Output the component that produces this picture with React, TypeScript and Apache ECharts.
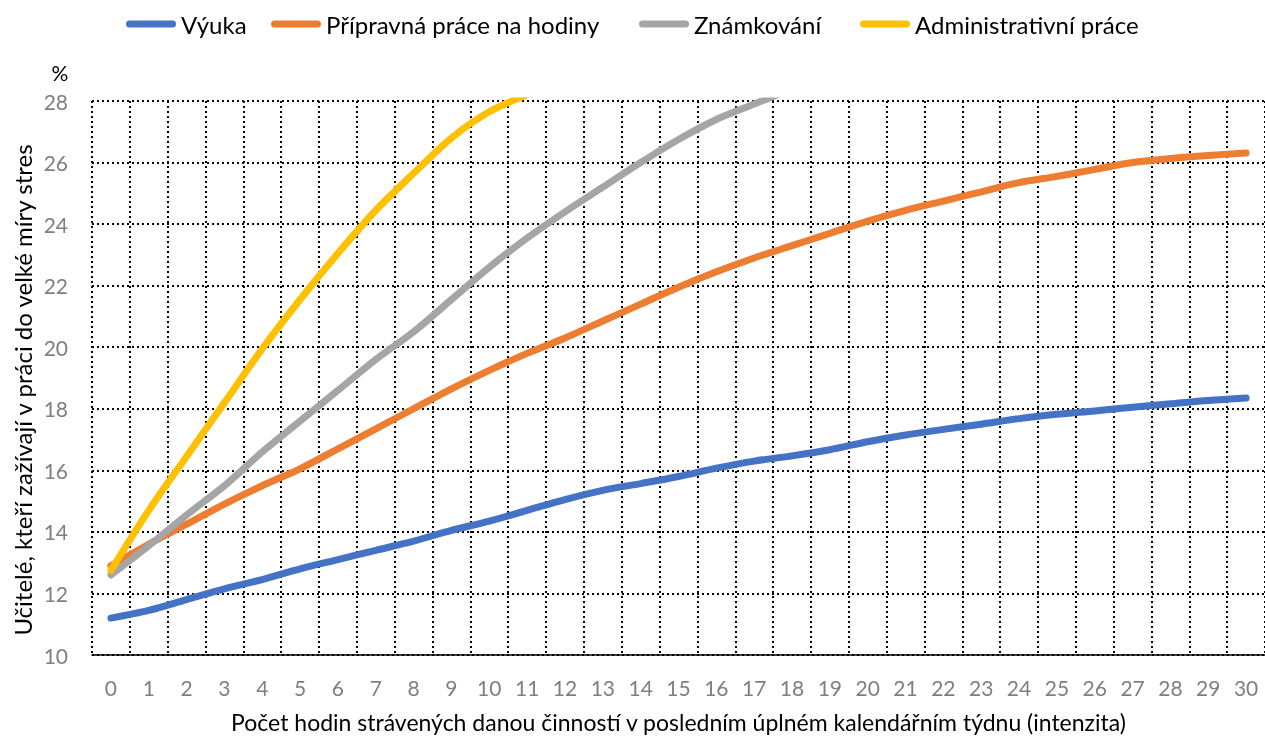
import React, { useEffect, useRef } from "react";
import * as echarts from "echarts";

const categories = Array.from({ length: 31 }, (_, i) => String(i));

const seriesNames = [
  "Výuka",
  "Přípravná práce na hodiny",
  "Známkování",
  "Administrativní práce",
];

const vyuka = [
  11.2, 11.45, 11.8, 12.15, 12.45, 12.8, 13.1, 13.4, 13.7, 14.05, 14.35, 14.7,
  15.05, 15.35, 15.57, 15.8, 16.07, 16.3, 16.47, 16.67, 16.93, 17.15, 17.33,
  17.5, 17.68, 17.82, 17.93, 18.05, 18.16, 18.27, 18.35,
];

const pripravna = [
  12.9, 13.6, 14.25, 14.9, 15.5, 16.05, 16.7, 17.35, 18.0, 18.65, 19.25, 19.8,
  20.3, 20.85, 21.4, 21.95, 22.45, 22.9, 23.3, 23.7, 24.1, 24.45, 24.75, 25.05,
  25.35, 25.55, 25.78, 26.0, 26.13, 26.23, 26.31,
];

const znamkovani = [
  12.6, 13.55, 14.55, 15.5, 16.6, 17.6, 18.6, 19.6, 20.5, 21.55, 22.6, 23.55,
  24.4, 25.2, 26.0, 26.75, 27.4, 27.9, 28.4,
];

const administrativni = [
  12.75, 14.7, 16.45, 18.2, 19.95, 21.55, 23.05, 24.45, 25.65, 26.8, 27.65, 28.2,
];

const yTitle = "Učitelé, kteří zažívají v práci do velké míry stres";
const xTitle =
  "Počet hodin strávených danou činností v posledním úplném kalendářním týdnu (intenzita)";
const yUnit = "%";

const colors = ["#4472C4", "#ED7D31", "#A5A5A5", "#FFC000"];
const legendLefts = [121, 266, 634, 855];
const FONT = "Lato";

export default function App() {
  const ref = useRef<HTMLDivElement>(null);

  useEffect(() => {
    document.body.style.margin = "0";
    const chart = echarts.init(ref.current!, null, { renderer: "svg" });
    const data = [vyuka, pripravna, znamkovani, administrativni];
    const option = {
      animation: false,
      textStyle: { fontFamily: FONT },
      legend: seriesNames.map((n, i) => ({
        data: [n],
        left: legendLefts[i],
        top: 7,
        itemWidth: 50,
        itemHeight: 14,
        itemGap: 0,
        icon: "path://M3.5,0 H46.5 A3.5,3.5 0 0 1 46.5,7 H3.5 A3.5,3.5 0 0 1 3.5,0 Z",
        itemStyle: { color: colors[i] },
        textStyle: { fontFamily: FONT, fontSize: 24, color: "#000" },
      })),
      grid: { left: 92, top: 101, width: 1177, height: 556 },
      xAxis: {
        type: "category",
        data: categories,
        boundaryGap: true,
        name: xTitle,
        nameLocation: "middle",
        nameGap: 55,
        nameTextStyle: { fontFamily: FONT, fontSize: 23, color: "#000" },
        axisLine: { show: true, lineStyle: { color: "#000", width: 1.5 } },
        axisTick: { show: false },
        axisLabel: {
          interval: 0,
          margin: 22,
          fontFamily: FONT,
          fontSize: 21,
          color: "#7f7f7f",
        },
        splitLine: {
          show: true,
          interval: 0,
          lineStyle: { color: "#000", width: 2, type: [2, 3] },
        },
      },
      yAxis: {
        type: "value",
        min: 10,
        max: 28,
        interval: 2,
        name: yUnit,
        nameLocation: "end",
        nameGap: 18,
        nameTextStyle: {
          fontFamily: FONT,
          fontSize: 21,
          color: "#000",
          padding: [0, 64, 0, 0],
        },
        axisLine: { show: false },
        axisTick: { show: false },
        axisLabel: {
          margin: 24,
          fontFamily: FONT,
          fontSize: 21,
          color: "#7f7f7f",
        },
        splitLine: {
          show: true,
          lineStyle: { color: "#000", width: 2, type: [2, 3] },
        },
      },
      graphic: [
        {
          type: "text",
          x: 22,
          y: 390,
          rotation: Math.PI / 2,
          style: {
            text: yTitle,
            fontFamily: FONT,
            fontSize: 24,
            fill: "#000",
            align: "center",
            verticalAlign: "middle",
          },
        },
      ],
      series: seriesNames.map((n, i) => ({
        name: n,
        type: "line",
        data: data[i],
        symbol: "none",
        smooth: 0.3,
        clip: true,
        color: colors[i],
        lineStyle: { color: colors[i], width: 7, cap: "round", join: "round" },
      })),
    };
    chart.setOption(option);
    return () => chart.dispose();
  }, []);

  return (
    <div
      ref={ref}
      style={{ width: 1265, height: 738, position: "fixed", left: 0, top: 0 }}
    />
  );
}
